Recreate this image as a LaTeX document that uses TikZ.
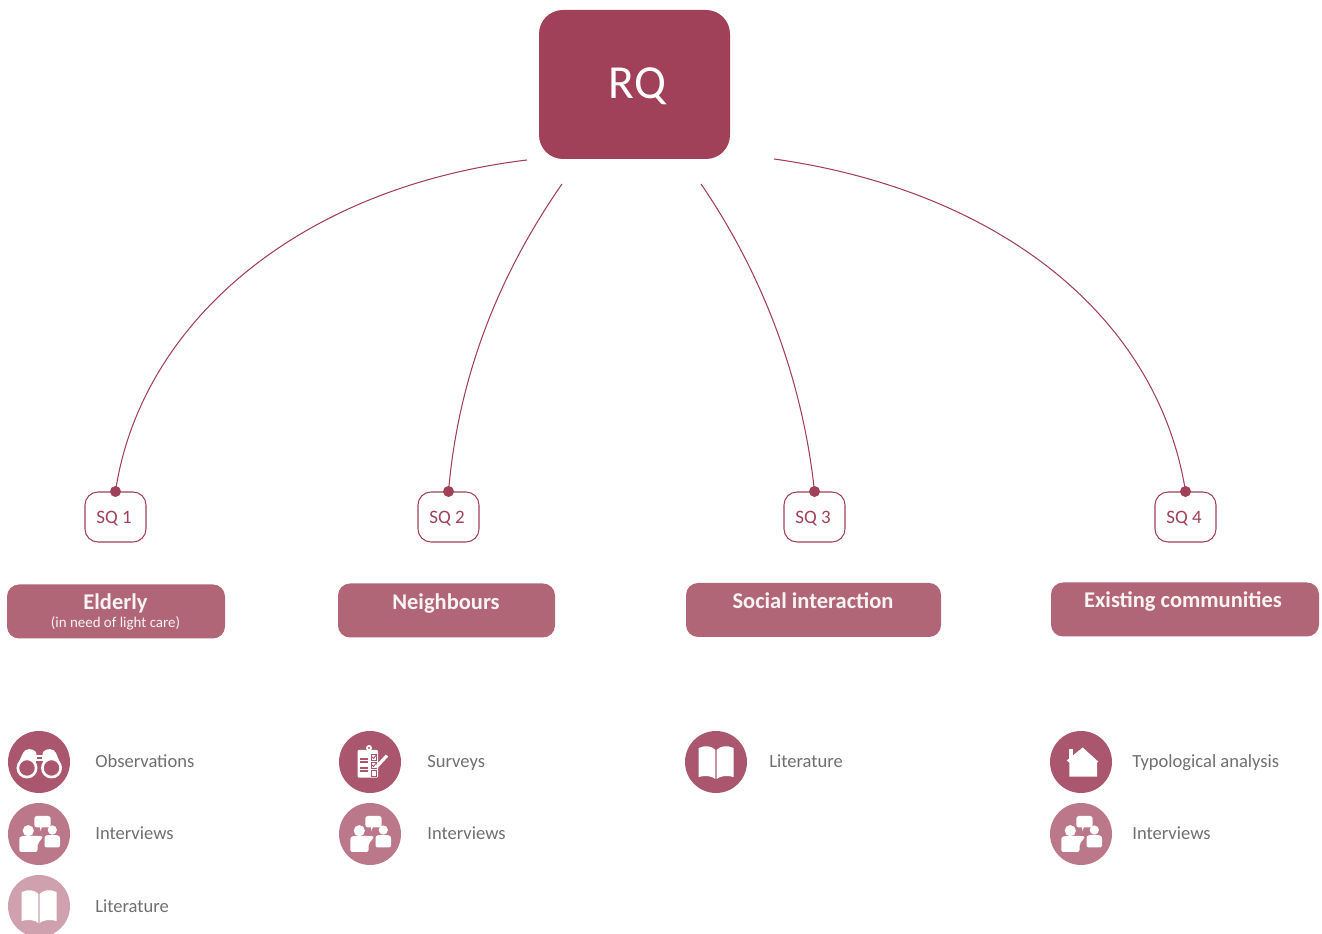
\documentclass[tikz,border=0pt]{standalone}
\usepackage{fontspec}
\setmainfont{Carlito}
\usepackage{xcolor}
\definecolor{rqmain}{HTML}{A04059}
\definecolor{rqbox}{HTML}{B16678}
\definecolor{rqdark}{HTML}{A9566E}
\definecolor{rqmid}{HTML}{BB788B}
\definecolor{rqlight}{HTML}{CFA1AE}
\definecolor{methodtext}{HTML}{6F6F6F}
\usetikzlibrary{positioning}

\tikzset{
    pics/binoculars/.style={code={
        \fill[even odd rule] (-12,6) circle (10.5) (-12,6) circle (7.8);
        \fill[even odd rule] (12.5,6) circle (10.5) (12.5,6) circle (7.8);
        \fill (-21,2) -- (-16,-9) .. controls (-14,-14) and (-6,-14) .. (-3,-10) -- (-2,-4) -- (-2,-2) -- (-4,1) -- (-12,-4) -- cycle;
        \fill (21.5,2) -- (17,-9) .. controls (15,-14) and (7,-14) .. (4,-10) -- (3,-4) -- (3,-2) -- (5,1) -- (12,-4) -- cycle;
        \fill (-3,-2.5) rectangle (4,-0.5);
        \fill (-3,-6.5) rectangle (4,-4.5);
    }},
    pics/people/.style={code={
        \fill[rounded corners=1.5pt] (-4.7,-18) rectangle (11.7,-6.5);
        \fill (1,-7) -- (3,-7) -- (1.5,-3) -- cycle;
        \fill (-10.7,-3.3) circle (5.6);
        \fill (13.3,-4) circle (4.6);
        \fill[rounded corners=1.2pt] (-19.7,18) -- (-19.7,3) -- (-15,1.8) -- (-3,1.8) -- (4.5,2.5) -- (-1.5,10) -- (-1.5,18) -- cycle;
        \fill[rounded corners=1.2pt] (5.5,13.5) -- (5.5,2) -- (10,0.8) -- (16,0.8) -- (21,2) -- (21,13.5) -- cycle;
    }},
    pics/book/.style={code={
        \fill (-17.3,-14) .. controls (-11,-17) and (-4,-16) .. (-0.6,-12) -- (-0.6,17) .. controls (-4,14) and (-11,13) .. (-17.3,15) -- cycle;
        \fill (17.7,-14) .. controls (11,-17) and (4,-16) .. (0.6,-12) -- (0.6,17) .. controls (4,14) and (11,13) .. (17.7,15) -- cycle;
    }},
    pics/clipboard/.style={code={
        \fill[rounded corners=0.6pt] (-12.3,-12) rectangle (8,15.7);
        \fill (-1,-14) circle (3);
        \fill[rqdark] (-1,-14) circle (1.2);
        \draw[rqdark, line width=0.6pt] (-10,-3) -- (-2,-3) (-10,0) -- (-2,0) (-10,6) -- (-2,6) (-10,9) -- (-2,9);
        \draw[rqdark, line width=0.5pt] (1,-8) rectangle (6.5,-2) (1,0) rectangle (6.5,6) (1,8) rectangle (6.5,14);
        \draw[rqdark, line width=0.5pt] (2,-5) -- (3.5,-3.5) -- (7,-8) (2,3) -- (3.5,4.5) -- (7,0);
        \draw[white, line width=1.8pt] (6,5.5) -- (17,-6.5);
    }},
    pics/house/.style={code={
        \fill (-11.7,-13) rectangle (-7.7,-3);
        \fill (1.7,-14.5) -- (-14.3,-1.5) -- (-11.7,0.5) -- (-11.7,14.7) -- (16,14.7) -- (16,0.5) -- (17.3,-0.3) -- cycle;
    }},
    iconpx/.style={x=0.02cm, y=-0.02cm, fill=white, draw=none}
}

\begin{document}
\begin{tikzpicture}[
    rqnode/.style={rectangle, rounded corners=0.48cm, fill=rqmain, text=white, minimum width=3.82cm, minimum height=2.98cm, text height=16pt, text depth=0pt, font=\fontsize{27}{30}\selectfont},
    sqnode/.style={rectangle, rounded corners=0.26cm, draw=rqmain, line width=0.6pt, fill=white, text=rqmain, minimum width=1.22cm, minimum height=1cm, inner sep=0pt, text height=7pt, text depth=0pt, execute at end node=\hspace{0.06cm}, font=\fontsize{10.8}{12}\selectfont},
    sqdot/.style={circle, fill=rqmain, minimum size=0.22cm, inner sep=0pt},
    topic/.style={rectangle, rounded corners=0.24cm, fill=rqbox, minimum height=1.08cm},
    topictitle/.style={text=white!92!rqbox, inner sep=0pt, text height=8.5pt, text depth=2.5pt, font=\fontsize{12.8}{14}\selectfont\bfseries},
    topicnote/.style={text=white!92!rqbox, inner sep=0pt, font=\fontsize{8.5}{10}\selectfont},
    icon/.style={circle, minimum size=1.24cm, inner sep=0pt},
    method/.style={anchor=west, text=methodtext, inner sep=0pt, text height=7pt, text depth=2pt, font=\fontsize{10.55}{12}\selectfont},
    link/.style={draw=rqmain, line width=0.6pt}
]
\useasboundingbox (0,0) rectangle (26.44,18.68);

% Research question
\node[rqnode] (rq) at (12.69,16.99) {\hspace{0.12cm}RQ};

% Free ends of the links
\coordinate (rq-a) at (10.54,15.48);
\coordinate (rq-b) at (11.24,15);
\coordinate (rq-c) at (14.02,15);
\coordinate (rq-d) at (15.48,15.5);

% Sub questions
\node[sqnode] (sq1) at (2.31,8.34) {SQ 1};
\node[sqnode] (sq2) at (8.97,8.34) {SQ 2};
\node[sqnode] (sq3) at (16.29,8.34) {SQ 3};
\node[sqnode] (sq4) at (23.71,8.34) {SQ 4};

% Links
\draw[link] (rq-a) .. controls (5.84,14.91) and (2.79,12.11) .. (sq1.north);
\draw[link] (rq-b) .. controls (9.85,13) and (9.15,10.95) .. (sq2.north);
\draw[link] (rq-c) .. controls (15.25,13.2) and (16.05,11.1) .. (sq3.north);
\draw[link] (rq-d) .. controls (20.02,14.86) and (23.16,12.32) .. (sq4.north);

\foreach \sq in {sq1,sq2,sq3,sq4}
    \node[sqdot] at (\sq.north) {};

% Topics
\node[topic, minimum width=4.36cm] (elderly) at (2.32,6.45) {};
\node[topic, minimum width=4.34cm] (neighbours) at (8.93,6.47) {};
\node[topic, minimum width=5.1cm] (social) at (16.27,6.48) {};
\node[topic, minimum width=5.36cm] (existing) at (23.7,6.49) {};

\node[topictitle] (elderly-title) at (2.31,6.59) {Elderly};
\node[topicnote] (elderly-note) at (2.31,6.22) {(in need of light care)};
\node[topictitle] (neighbours-title) at (8.92,6.59) {Neighbours};
\node[topictitle] (social-title) at (16.26,6.61) {Social interaction};
\node[topictitle] (existing-title) at (23.66,6.63) {Existing communities};

% Methods, column 1
\node[icon, fill=rqdark] (obs1) at (0.78,3.44) {};
\node[icon, fill=rqmid] (int1) at (0.78,2) {};
\node[icon, fill=rqlight] (lit1) at (0.78,0.56) {};
\pic[iconpx] at (obs1) {binoculars};
\pic[iconpx] at (int1) {people};
\pic[iconpx] at (lit1) {book};
\node[method] (obs1-text) at (1.9,3.42) {Observations};
\node[method] (int1-text) at (1.9,1.98) {Interviews};
\node[method] (lit1-text) at (1.9,0.51) {Literature};

% Methods, column 2
\node[icon, fill=rqdark] (sur2) at (7.4,3.44) {};
\node[icon, fill=rqmid] (int2) at (7.4,2) {};
\pic[iconpx] at (sur2) {clipboard};
\pic[iconpx] at (int2) {people};
\node[method] (sur2-text) at (8.54,3.42) {Surveys};
\node[method] (int2-text) at (8.54,1.98) {Interviews};

% Methods, column 3
\node[icon, fill=rqdark] (lit3) at (14.32,3.44) {};
\pic[iconpx] at (lit3) {book};
\node[method] (lit3-text) at (15.38,3.42) {Literature};

% Methods, column 4
\node[icon, fill=rqdark] (typ4) at (21.62,3.44) {};
\node[icon, fill=rqmid] (int4) at (21.62,2) {};
\pic[iconpx] at (typ4) {house};
\pic[iconpx] at (int4) {people};
\node[method] (typ4-text) at (22.64,3.42) {Typological analysis};
\node[method] (int4-text) at (22.64,1.98) {Interviews};

\end{tikzpicture}
\end{document}
